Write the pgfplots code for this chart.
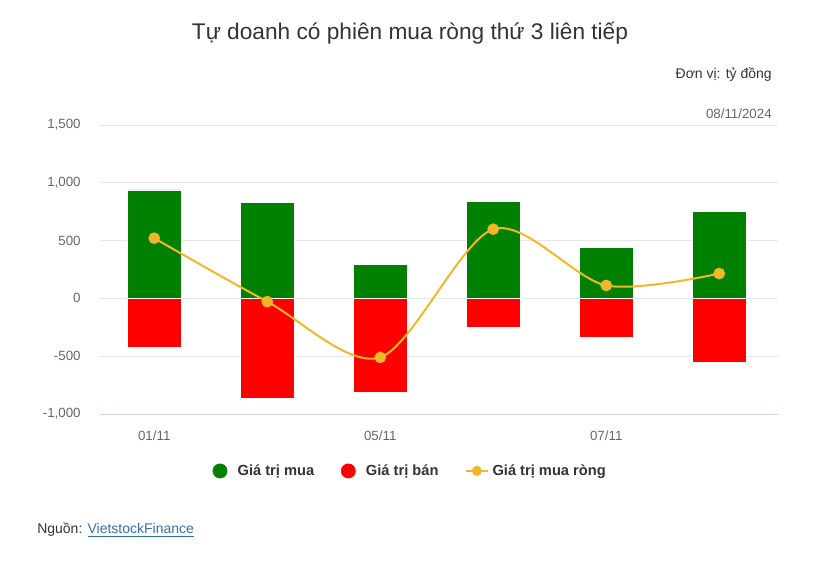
\documentclass[border=0pt]{standalone}
\usepackage{fontspec}
\setmainfont{Liberation Sans}
\usepackage{pgfplots}
\pgfplotsset{compat=1.18}
\definecolor{muaxanh}{RGB}{0,128,0}
\definecolor{bando}{RGB}{255,0,0}
\definecolor{rongvang}{RGB}{242,183,40}
\definecolor{luoi}{RGB}{230,230,230}
\definecolor{truc}{RGB}{204,214,235}
\definecolor{chuxam}{RGB}{102,102,102}
\definecolor{chudam}{RGB}{51,51,51}
\definecolor{lienket}{RGB}{51,112,170}

\begin{document}
\begin{tikzpicture}
  \begin{axis}[
    at={(75pt,-310.5pt)}, anchor=south west,
    scale only axis, width=508.5pt, height=216.75pt,
    xmin=-0.48, xmax=5.52, ymin=-1000, ymax=1500,
    axis x line*=bottom, axis y line*=left,
    x axis line style={draw=truc, line width=0.75pt, -},
    y axis line style={draw=none},
    major tick length=0pt,
    xtick={0,2,4}, xticklabels={01/11,05/11,07/11},
    ytick={-1000,-500,0,500,1000,1500},
    yticklabels={{-1,000},{-500},{0},{500},{1,000},{1,500}},
    tick label style={font=\fontsize{10}{12}\selectfont, text=chuxam},
    yticklabel style={xshift=-11pt},
    xticklabel style={yshift=-9pt},
    ymajorgrids, grid style={draw=luoi, line width=0.75pt},
    legend columns=3,
    legend style={at={(0.458,-0.197)}, anchor=center, draw=none,
      font=\bfseries\fontsize{11}{13}\selectfont, text=chudam,
      /tikz/every even column/.append style={column sep=18pt}},
  ]
    \addplot[ybar, bar width=40.5pt, bar shift=0pt, fill=muaxanh, draw=white, line width=0.5pt,
      legend image code/.code={\fill[muaxanh] (0pt,0pt) circle (5.3pt); \path (11pt,0pt);}]
      coordinates {(0,939)(1,831)(2,295)(3,842)(4,444)(5,756)};
    \addlegendentry{Giá trị mua}
    \addplot[ybar, bar width=40.5pt, bar shift=0pt, fill=bando, draw=white, line width=0.5pt,
      legend image code/.code={\fill[bando] (0pt,0pt) circle (5.3pt); \path (11pt,0pt);}]
      coordinates {(0,-424)(1,-862)(2,-810)(3,-252)(4,-335)(5,-552)};
    \addlegendentry{Giá trị bán}
    \addplot[rongvang, line width=1.5pt, smooth, tension=0.5,
      mark=*, mark size=3.6pt, mark options={fill=rongvang, draw=rongvang},
      legend image code/.code={\draw[rongvang, line width=1.5pt] (0pt,0pt) -- (16pt,0pt);
        \fill[rongvang] (8pt,0pt) circle (3pt); \path (17pt,0pt);}]
      coordinates {(0,521)(1,-28)(2,-510)(3,599)(4,112)(5,215)};
    \addlegendentry{Giá trị mua ròng}
  \end{axis}
  \begin{scope}[x=0.75pt, y=-0.75pt]
    \path (0,0) rectangle (816,567);
    \node[text=chudam, font=\fontsize{17}{20}\selectfont] at (410,33) {Tự doanh có phiên mua ròng thứ 3 liên tiếp};
    \node[anchor=east, inner sep=0pt, text=chudam, font=\fontsize{10.5}{12}\selectfont] at (772,75) {Đơn vị: tỷ đồng};
    \node[anchor=east, inner sep=0pt, text=chuxam, font=\fontsize{10}{12}\selectfont] at (772,114) {08/11/2024};
    \node[anchor=west, inner sep=0pt, text=chudam, font=\fontsize{10.5}{12}\selectfont] at (37,530)
      {Nguồn: \textcolor{lienket}{\underline{VietstockFinance}}};
  \end{scope}
\end{tikzpicture}
\end{document}
